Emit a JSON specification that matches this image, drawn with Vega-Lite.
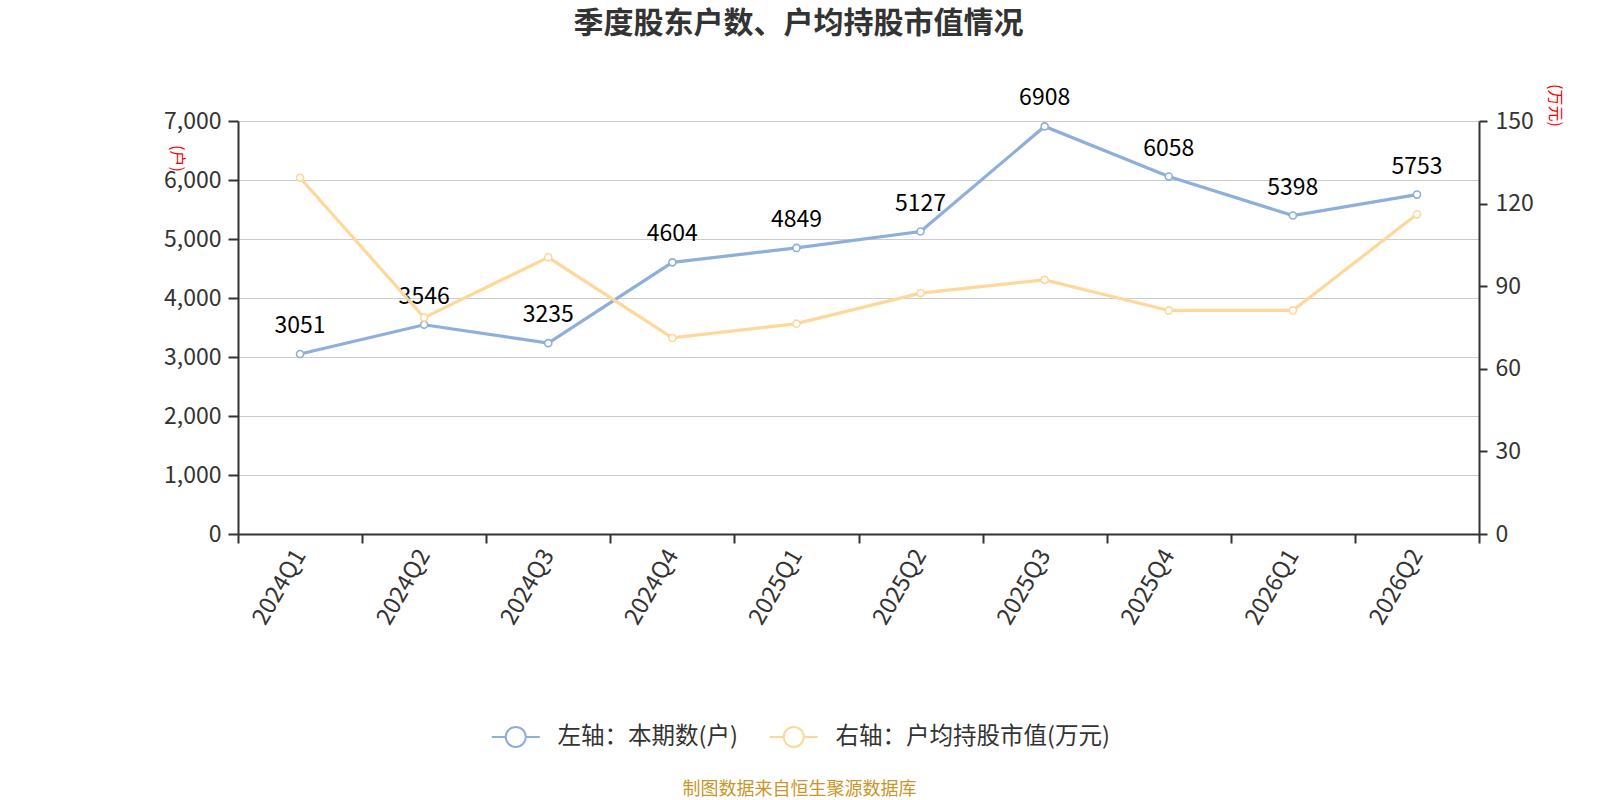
{
  "$schema": "https://vega.github.io/schema/vega-lite/v6.json",
  "width": 1241,
  "height": 413,
  "autosize": {"type": "none"},
  "padding": {"left": 238, "top": 121, "right": 121, "bottom": 266},
  "background": "white",
  "title": {
    "text": "季度股东户数、户均持股市值情况",
    "font": "Noto Sans CJK SC",
    "fontSize": 30,
    "fontWeight": "bold",
    "color": "#333333",
    "anchor": "middle",
    "frame": "group",
    "dx": -60,
    "baseline": "middle",
    "offset": 30
  },
  "config": {
    "font": "Noto Sans CJK SC",
    "view": {"stroke": null},
    "axis": {
      "labelFont": "Noto Sans CJK SC",
      "labelColor": "#333333",
      "domainColor": "#333333",
      "domainWidth": 2,
      "tickColor": "#333333",
      "tickWidth": 2,
      "titleFont": "Noto Sans CJK SC",
      "titleFontWeight": "normal"
    }
  },
  "data": {
    "values": [
      {"quarter": "2024Q1", "households": 3051, "avgValue": 129.4},
      {"quarter": "2024Q2", "households": 3546, "avgValue": 78.6},
      {"quarter": "2024Q3", "households": 3235, "avgValue": 100.5},
      {"quarter": "2024Q4", "households": 4604, "avgValue": 71.2},
      {"quarter": "2025Q1", "households": 4849, "avgValue": 76.4},
      {"quarter": "2025Q2", "households": 5127, "avgValue": 87.5},
      {"quarter": "2025Q3", "households": 6908, "avgValue": 92.3},
      {"quarter": "2025Q4", "households": 6058, "avgValue": 81.2},
      {"quarter": "2026Q1", "households": 5398, "avgValue": 81.2},
      {"quarter": "2026Q2", "households": 5753, "avgValue": 116.1}
    ]
  },
  "encoding": {
    "x": {
      "field": "quarter",
      "type": "ordinal",
      "sort": null,
      "bandPosition": 0.5,
      "scale": {"type": "band", "paddingInner": 0, "paddingOuter": 0},
      "axis": {
        "tickBand": "extent",
        "labelAngle": -60,
        "labelAlign": "right",
        "labelBaseline": "middle",
        "labelFontSize": 23.5,
        "labelPadding": 8,
        "tickSize": 9,
        "grid": false,
        "title": "制图数据来自恒生聚源数据库",
        "titleColor": "#c9962b",
        "titleFontSize": 18,
        "titleX": 561,
        "titleY": 255,
        "titleAlign": "center",
        "titleBaseline": "middle",
        "titleAngle": 0
      }
    },
    "color": {
      "scale": {
        "domain": ["左轴：本期数(户)", "右轴：户均持股市值(万元)"],
        "range": ["#8eaedb", "#fdd89a"]
      },
      "legend": {
        "title": null,
        "orient": "none",
        "direction": "horizontal",
        "legendX": 266,
        "legendY": 604,
        "labelFontSize": 23.5,
        "labelColor": "#333333",
        "labelFont": "Noto Sans CJK SC",
        "labelLimit": 0,
        "labelOffset": 30,
        "columnPadding": 27,
        "symbolType": "M-2.4,0L-1,0M1,0L2.4,0M1,0A1,1,0,1,1,-1,0A1,1,0,1,1,1,0",
        "symbolSize": 400,
        "symbolStrokeWidth": 2,
        "symbolFillColor": "white"
      }
    }
  },
  "layer": [
    {
      "encoding": {
        "y": {
          "field": "households",
          "type": "quantitative",
          "scale": {"domain": [0, 7000], "nice": false},
          "axis": {
            "values": [0, 1000, 2000, 3000, 4000, 5000, 6000, 7000],
            "format": ",d",
            "labelFontSize": 23,
            "labelPadding": 7,
            "tickSize": 10,
            "grid": true,
            "gridColor": "#cccccc",
            "gridWidth": 1.2,
            "title": "(户)",
            "titleColor": "red",
            "titleFontSize": 16,
            "titleAngle": 90,
            "titleX": -62,
            "titleY": 37,
            "titleAlign": "center",
            "titleBaseline": "middle"
          }
        }
      },
      "layer": [
        {
          "mark": {"type": "line", "strokeWidth": 3.2},
          "encoding": {"color": {"datum": "左轴：本期数(户)"}}
        },
        {
          "mark": {"type": "point", "shape": "circle", "filled": false, "fill": "white", "size": 50, "strokeWidth": 1.6, "opacity": 1},
          "encoding": {"color": {"datum": "左轴：本期数(户)"}}
        },
        {
          "mark": {"type": "text", "dy": -21, "baseline": "alphabetic", "fontSize": 23, "color": "#000000", "font": "Noto Sans CJK SC"},
          "encoding": {"text": {"field": "households", "type": "quantitative", "format": "d"}}
        }
      ]
    },
    {
      "encoding": {
        "y": {
          "field": "avgValue",
          "type": "quantitative",
          "scale": {"domain": [0, 150], "nice": false},
          "axis": {
            "orient": "right",
            "values": [0, 30, 60, 90, 120, 150],
            "labelFontSize": 23,
            "labelPadding": 8,
            "tickSize": 8,
            "grid": false,
            "title": "(万元)",
            "titleColor": "red",
            "titleFontSize": 16,
            "titleAngle": 90,
            "titleX": 75,
            "titleY": -16,
            "titleAlign": "center",
            "titleBaseline": "middle"
          }
        }
      },
      "layer": [
        {
          "mark": {"type": "line", "strokeWidth": 3.2},
          "encoding": {"color": {"datum": "右轴：户均持股市值(万元)"}}
        },
        {
          "mark": {"type": "point", "shape": "circle", "filled": false, "fill": "white", "size": 50, "strokeWidth": 1.6, "opacity": 1},
          "encoding": {"color": {"datum": "右轴：户均持股市值(万元)"}}
        }
      ]
    }
  ],
  "resolve": {"scale": {"y": "independent"}}
}
